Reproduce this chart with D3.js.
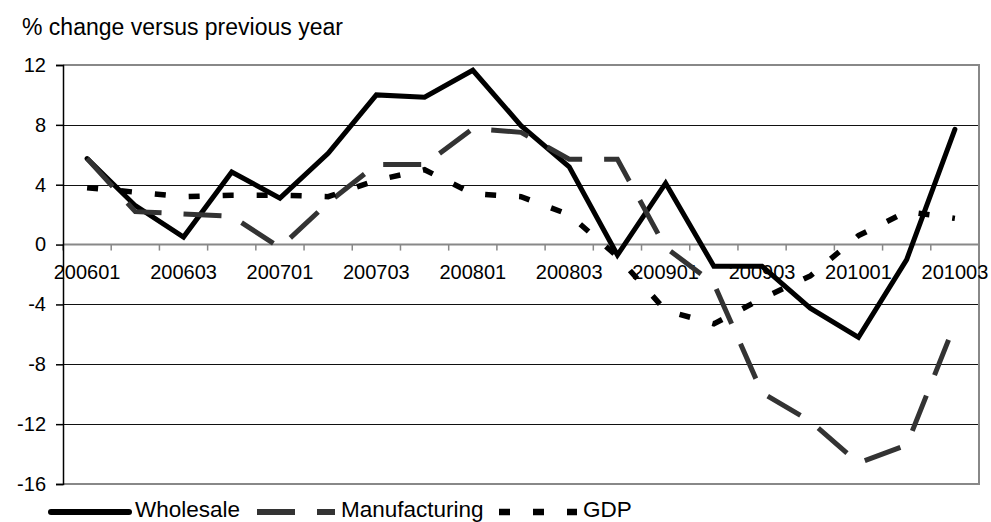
<!DOCTYPE html>
<html>
<head>
<meta charset="utf-8">
<script src="https://cdn.jsdelivr.net/npm/d3@7"></script>
<style>
  body { margin: 0; background: #fff; }
  svg { display: block; font-family: "Liberation Sans", Arial, sans-serif; }
</style>
</head>
<body>
<svg class="main-canvas" width="991" height="522"></svg>
<script>
"use strict";

// Quarters, yyyyqq
const quarters = ['200601', '200602', '200603', '200604', '200701', '200702', '200703', '200704',
                  '200801', '200802', '200803', '200804', '200901', '200902', '200903', '200904',
                  '201001', '201002', '201003'];
const wholesale = [5.75, 2.6, 0.5, 4.85, 3.1, 6.1, 10.0, 9.85, 11.65, 7.95, 5.2, -0.7, 4.1, -1.45, -1.45, -4.25, -6.2, -1.0, 7.7];
const manufacturing = [5.75, 2.2, 2.05, 1.9, -0.2, 2.8, 5.35, 5.35, 7.75, 7.5, 5.7, 5.7, -0.2, -2.6, -9.9, -11.8, -14.6, -13.4, -5.3];
const gdp = [3.8, 3.5, 3.2, 3.3, 3.3, 3.2, 4.3, 5.0, 3.4, 3.2, 2.0, -0.8, -4.4, -5.3, -3.6, -2.1, 0.6, 2.2, 1.75];
const yTicks = [12, 8, 4, 0, -4, -8, -12, -16];
const xLabels = quarters.filter((q, i) => i % 2 === 0);

const series = [
  { name: 'Wholesale', values: wholesale, color: '#000', width: 5, dash: null, cap: 'round' },
  { name: 'Manufacturing', values: manufacturing, color: '#333', width: 5, dash: '38,22', cap: 'butt' },
  { name: 'GDP', values: gdp, color: '#000', width: 5.5, dash: '11,23', cap: 'butt' }
];

let svg = d3.select('.main-canvas');

const x = d3.scaleBand()
            .domain(quarters)
            .range([63, 979]);
const y = d3.scaleLinear()
            .domain([-16, 12])
            .range([484, 65]);
const cx = q => x(q) + x.bandwidth() / 2;  // Points sit in the middle of each category

// Title
svg.append('text')
   .attr('x', 22)
   .attr('y', 35)
   .attr('font-size', 23)
   .text('% change versus previous year');

// Horizontal gridlines (the 0 line is the category axis)
svg.append('g')
   .selectAll('line')
   .data(yTicks.filter(t => t !== 0 && t !== 12 && t !== -16))
   .enter()
   .append('line')
   .attr('x1', 63)
   .attr('x2', 979)
   .attr('y1', d => Math.round(y(d)) + 0.5)
   .attr('y2', d => Math.round(y(d)) + 0.5)
   .attr('stroke', '#111')
   .attr('stroke-width', 1);

// Plot border: top, right, bottom
svg.append('path')
   .attr('d', `M63,${y(12)}H979V${y(-16)}H63`)
   .attr('fill', 'none')
   .attr('stroke', '#888')
   .attr('stroke-width', 2);

// Category axis along 0, ticks on band boundaries
let xAxis = svg.append('g');
xAxis.append('line')
     .attr('x1', 63)
     .attr('x2', 979)
     .attr('y1', y(0))
     .attr('y2', y(0))
     .attr('stroke', '#888')
     .attr('stroke-width', 2);
xAxis.selectAll('.tick')
     .data(quarters.concat(['end']))
     .enter()
     .append('line')
     .attr('x1', (d, i) => 63 + i * x.bandwidth())
     .attr('x2', (d, i) => 63 + i * x.bandwidth())
     .attr('y1', y(0))
     .attr('y2', y(0) + 6)
     .attr('stroke', '#888')
     .attr('stroke-width', 1.5);
xAxis.selectAll('text')
     .data(xLabels)
     .enter()
     .append('text')
     .attr('x', d => cx(d))
     .attr('y', 279)
     .attr('text-anchor', 'middle')
     .attr('font-size', 20)
     .text(d => d);

// Value axis on the left
svg.append('g')
   .attr('transform', 'translate(63,0)')
   .call(d3.axisLeft(y).tickValues(yTicks).tickSize(7).tickPadding(10).tickFormat(d => String(d)))  // plain hyphen minus
   .call(g => g.selectAll('text').attr('font-size', 20).attr('fill', '#000').attr('font-family', null))
   .call(g => g.selectAll('line, path').attr('stroke', '#000').attr('stroke-width', 1.5));

// The three series
const line = d3.line()
               .x((d, i) => cx(quarters[i]))
               .y(d => y(d));

svg.append('g')
   .selectAll('path')
   .data(series)
   .enter()
   .append('path')
   .attr('d', s => line(s.values))
   .attr('fill', 'none')
   .attr('stroke', s => s.color)
   .attr('stroke-width', s => s.width)
   .attr('stroke-dasharray', s => s.dash)
   .attr('stroke-linecap', s => s.cap)
   .attr('stroke-linejoin', 'miter');

// Legend along the bottom
const legendX = [51, 257, 499];
let legend = svg.append('g')
                .selectAll('g')
                .data(series)
                .enter()
                .append('g')
                .attr('transform', (s, i) => `translate(${legendX[i]}, 512)`);
legend.append('line')
      .attr('x1', 0)
      .attr('x2', 78)
      .attr('stroke', s => s.color)
      .attr('stroke-width', s => s.width + 1)
      .attr('stroke-dasharray', s => s.dash)
      .attr('stroke-linecap', s => s.cap);
legend.append('text')
      .attr('x', 84)
      .attr('y', 4.5)
      .attr('font-size', 22.5)
      .text(s => s.name);
</script>
</body>
</html>
